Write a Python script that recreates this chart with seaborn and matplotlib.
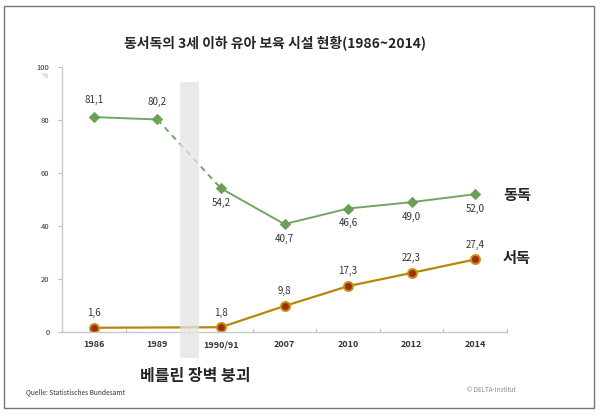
import matplotlib
matplotlib.use("Agg")
import matplotlib.pyplot as plt
import seaborn as sns
import pandas as pd
from matplotlib.patches import Rectangle

sns.set_style("white")
plt.rcParams['font.family'] = ['Noto Sans CJK KR', 'DejaVu Sans']

categories = ["1986", "1989", "1990/91", "2007", "2010", "2012", "2014"]
east = [81.1, 80.2, 54.2, 40.7, 46.6, 49.0, 52.0]
west = [1.6, None, 1.8, 9.8, 17.3, 22.3, 27.4]
east_label = "동독"
west_label = "서독"
title = "동서독의 3세 이하 유아 보육 시설 현황(1986~2014)"
event_label = "베를린 장벽 붕괴"
source = "Quelle: Statistisches Bundesamt"
credit = "© DELTA-Institut"

green = "#6a9e5a"
gline = "#72a662"
brown = "#b8860b"

df = pd.DataFrame({"cat": categories, "pos": range(len(categories)),
                   "east": east, "west": west})

fig = plt.figure(figsize=(6.0, 4.17), dpi=100)
ax = fig.add_axes([62/600, 1-332/417, (507-62)/600, (332-67)/417])

# green series segments
seg1 = df.iloc[0:2]
seg2 = df.iloc[1:3]
seg3 = df.iloc[2:]
sns.lineplot(data=seg1, x="pos", y="east", ax=ax, color=gline, lw=1.4,
             marker="D", markersize=5, markeredgecolor=green, markerfacecolor=green)
sns.lineplot(data=seg2, x="pos", y="east", ax=ax, color=gline, lw=1.4,
             linestyle=(0, (3, 2.5)))
sns.lineplot(data=seg3, x="pos", y="east", ax=ax, color=gline, lw=1.4,
             marker="D", markersize=5, markeredgecolor=green, markerfacecolor=green)

# brown series
wdf = df.dropna(subset=["west"])
sns.lineplot(data=wdf, x="pos", y="west", ax=ax, color=brown, lw=1.6,
             marker="o", markersize=6.5, markerfacecolor="#a0300a",
             markeredgecolor="#c8901a", markeredgewidth=1.4)

# Berlin wall band
ax.add_patch(Rectangle((1.35, -9.8), 0.3, 104.1, facecolor="#e4e4e4",
                       edgecolor="none", alpha=0.75, zorder=5, clip_on=False))

# value labels
for i, v in enumerate(east):
    if i < 2:
        ax.annotate(f"{v:.1f}".replace(".", ","), (i, v), xytext=(0, 9),
                    textcoords="offset points", ha="center", va="bottom",
                    fontsize=7, color="#333333")
    else:
        ax.annotate(f"{v:.1f}".replace(".", ","), (i, v), xytext=(0, -7),
                    textcoords="offset points", ha="center", va="top",
                    fontsize=7, color="#333333")
for i, v in enumerate(west):
    if v is None:
        continue
    ax.annotate(f"{v:.1f}".replace(".", ","), (i, v), xytext=(0, 7),
                textcoords="offset points", ha="center", va="bottom",
                fontsize=7, color="#333333")

ax.set_xlim(-0.5, 6.5)
ax.set_ylim(0, 100)
ax.set_xticks(range(len(categories)))
ax.set_xticklabels(categories, fontsize=6.5, fontweight="bold", color="#333333")
ax.set_yticks([0, 20, 40, 60, 80, 100])
ax.set_yticklabels(["0", "20", "40", "60", "80", "100"], fontsize=5.5, color="#333333")
ax.tick_params(axis="y", length=3, color="#bbbbbb", width=0.8, pad=6, left=True)
ax.tick_params(axis="x", length=0, pad=6)
# boundary ticks on x axis
for b in [-0.5 + k for k in range(8)]:
    ax.plot([b, b], [0, 1.3], color="#bbbbbb", lw=0.8, clip_on=False)
ax.set_xlabel("")
ax.set_ylabel("")
for s in ["top", "right"]:
    ax.spines[s].set_visible(False)
for s in ["left", "bottom"]:
    ax.spines[s].set_color("#c8c8c8")
    ax.spines[s].set_linewidth(1.0)

fig.text(62/600 - 0.028, 1-76/417, "%", fontsize=5, color="#aaaaaa", ha="center", va="center")
fig.text(275/600, 1-43/417, title, fontsize=10, fontweight="bold", ha="center", va="center")
fig.text(503/600, 1-195/417, east_label, fontsize=11, fontweight="bold", ha="left", va="center")
fig.text(503/600, 1-258/417, west_label, fontsize=11, fontweight="bold", ha="left", va="center")
fig.text(195/600, 1-376/417, event_label, fontsize=11.5, fontweight="bold", ha="center", va="center")
fig.text(26/600, 1-392/417, source, fontsize=4.8, color="#333333", ha="left", va="center")
fig.text(467/600, 1-390/417, credit, fontsize=4.5, color="#888888", ha="left", va="center")

fig.patches.append(Rectangle((4/600, 1-408/417), 590/600, 402/417, transform=fig.transFigure,
                             fill=False, edgecolor="#777777", lw=1.0))

fig.savefig("out.png", dpi=100)
